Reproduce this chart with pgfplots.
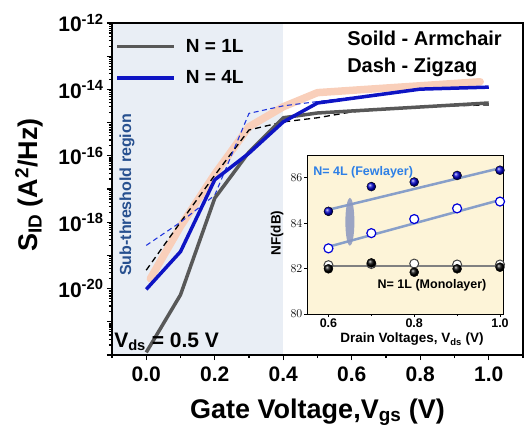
\documentclass[border=0pt]{standalone}
\usepackage{fontspec}
\setmainfont{Liberation Sans}
\usepackage{pgfplots}
\pgfplotsset{compat=1.18}
\usetikzlibrary{plotmarks}
\definecolor{shadebg}{HTML}{E9EEF5}
\definecolor{peach}{HTML}{F9CFBA}
\definecolor{graymain}{HTML}{585858}
\definecolor{bluemain}{HTML}{0E14C4}
\definecolor{bluedash}{HTML}{2236DD}
\definecolor{subblue}{HTML}{27508F}
\definecolor{insetbg}{HTML}{FDF4D8}
\definecolor{fitblue}{HTML}{7C96C8}
\definecolor{ellip}{HTML}{8A97C0}
\definecolor{lblue}{HTML}{2D7FE6}
\begin{document}
\begin{tikzpicture}
\path (-112pt,-68pt) rectangle (414pt,355pt);
\begin{axis}[
  at={(0pt,0pt)}, anchor=south west,
  scale only axis, width=411pt, height=332pt,
  axis on top,
  xmin=-0.1, xmax=1.1,
  ymode=log, ymin=1e-22, ymax=1e-12,
  xtick={0,0.2,0.4,0.6,0.8,1.0},
  xticklabels={0.0,0.2,0.4,0.6,0.8,1.0},
  minor xtick={-0.1,0.1,0.3,0.5,0.7,0.9,1.1},
  ytick={1e-22,1e-21,1e-20,1e-19,1e-18,1e-17,1e-16,1e-15,1e-14,1e-13,1e-12},
  yticklabels={,,10\textsuperscript{-20},,10\textsuperscript{-18},,10\textsuperscript{-16},,10\textsuperscript{-14},,10\textsuperscript{-12}},
  tick align=outside, xtick pos=bottom, ytick pos=left,
  major tick length=5pt, minor tick length=3pt,
  every tick/.style={black, line width=1.1pt},
  axis line style={line width=1.4pt},
  tick label style={font=\fontsize{21}{21}\selectfont\bfseries},
  xticklabel style={yshift=-3pt},
  xlabel={Gate Voltage,V\textsubscript{gs} (V)},
  ylabel={S\textsubscript{ID} (A\textsuperscript{2}/Hz)},
  xlabel style={at={(axis description cs:0.5,-0.19)}, anchor=base, font=\fontsize{27}{27}\selectfont\bfseries},
  ylabel style={at={(axis description cs:-0.202,0.512)}, anchor=center, rotate=0, font=\fontsize{27}{27}\selectfont\bfseries},
  legend style={at={(rel axis cs:0.008,0.958)}, anchor=north west, draw=none, fill=none, inner sep=0pt,
    font=\fontsize{19}{19}\selectfont\bfseries, row sep=13pt, nodes={inner sep=2pt}},
  legend cell align=left,
  legend image code/.code={\draw[#1] (0pt,0pt) -- (57pt,0pt); \path (65pt,0pt);},
]
\addplot[fill=shadebg, draw=none, forget plot] coordinates {(-0.1,1e-22) (-0.1,1e-12) (0.4,1e-12) (0.4,1e-22)} -- cycle;
\addplot[peach, line width=7.5pt, line join=round, line cap=round, forget plot] coordinates {
(0.012,2e-20) (0.1,7.5e-19) (0.2,2.8e-17) (0.3,7.5e-16) (0.4,3e-15) (0.5,8e-15) (0.975,1.7e-14)};
\addplot[black, line width=1.3pt, dash pattern=on 6pt off 4pt, forget plot] coordinates {
(0,3.6e-20) (0.1,1e-18) (0.2,2.6e-17) (0.3,6e-16) (0.4,1.05e-15) (0.5,1.4e-15) (0.6,2.1e-15) (0.8,3.0e-15) (1.0,3.4e-15)};
\addplot[bluedash, line width=1.1pt, dash pattern=on 5pt off 3.5pt, forget plot] coordinates {
(0,2e-19) (0.1,1e-18) (0.2,6.5e-18) (0.3,1.9e-15) (0.4,3.2e-15) (0.5,4.3e-15) (0.8,1.05e-14) (1.0,1.15e-14)};
\addplot[graymain, line width=3.5pt, line join=round] coordinates {
(0,1.2e-22) (0.1,6.5e-21) (0.2,5.3e-18) (0.3,1.3e-16) (0.4,1.4e-15) (0.5,1.95e-15) (1.0,3.9e-15)};
\addlegendentry{N = 1L}
\addplot[bluemain, line width=3.5pt, line join=round] coordinates {
(0,9.5e-21) (0.1,1.3e-19) (0.2,1.9e-17) (0.3,1.2e-16) (0.4,1.05e-15) (0.5,3.9e-15) (0.8,1.02e-14) (1.0,1.17e-14)};
\addlegendentry{N = 4L}
\node[anchor=west, inner sep=0pt, font=\fontsize{20}{20}\selectfont\bfseries] at (rel axis cs:0.572,0.955) {Soild - Armchair};
\node[anchor=west, inner sep=0pt, font=\fontsize{20}{20}\selectfont\bfseries] at (rel axis cs:0.572,0.867) {Dash - Zigzag};
\node[rotate=90, inner sep=0pt, text=subblue, font=\fontsize{16}{16}\selectfont\bfseries] at (rel axis cs:0.0365,0.482) {Sub-threshold region};
\node[anchor=base west, inner sep=0pt, font=\fontsize{21}{21}\selectfont\bfseries] at (rel axis cs:0.005,0.024) {V\textsubscript{ds} = 0.5 V};
\end{axis}
\begin{axis}[
  at={(195pt,41pt)}, anchor=south west,
  scale only axis, width=196pt, height=159pt,
  xmin=0.55, xmax=1.007, ymin=80, ymax=87,
  xtick={0.6,0.8,1.0}, xticklabels={0.6,0.8,1.0}, minor xtick={0.7,0.9},
  ytick={80,82,84,86},
  axis background/.style={fill=insetbg},
  tick align=outside, xtick pos=bottom, ytick pos=left,
  major tick length=3pt, minor tick length=2pt,
  every tick/.style={black, line width=0.8pt},
  axis line style={line width=1pt},
  tick label style={font=\fontsize{12.5}{12.5}\selectfont\bfseries, inner sep=1.5pt},
  xlabel={Drain Voltages, V\textsubscript{ds} (V)},
  ylabel={NF(dB)},
  xlabel style={at={(axis description cs:0.536,-0.182)}, anchor=base, font=\fontsize{13.5}{13.5}\selectfont\bfseries},
  ylabel style={at={(axis description cs:-0.153,0.509)}, anchor=center, font=\fontsize{13.5}{13.5}\selectfont\bfseries},
]
\addplot[fitblue, line width=2.5pt, opacity=0.9] coordinates {(0.6,84.59) (1.0,86.42)};
\addplot[fitblue, line width=2.5pt, opacity=0.9] coordinates {(0.6,82.96) (1.0,85.02)};
\addplot[gray, line width=2pt] coordinates {(0.6,82.1) (1.0,82.1)};
\addplot[only marks, mark=*, mark size=4.5pt, mark options={fill=white, draw=black!75, line width=1pt}] coordinates {
(0.6,82.15) (0.7,82.2) (0.8,82.22) (0.9,82.18) (1.0,82.18)};
\addplot[only marks, mark=ball, mark size=4.5pt, mark options={ball color=black}] coordinates {
(0.6,81.99) (0.7,82.25) (0.8,81.84) (0.9,81.99) (1.0,82.06)};
\addplot[only marks, mark=*, mark size=4.5pt, mark options={fill=white, draw=blue!85!black, line width=1.2pt}] coordinates {
(0.6,82.89) (0.7,83.56) (0.8,84.18) (0.9,84.65) (1.0,84.95)};
\addplot[only marks, mark=ball, mark size=4.5pt, mark options={ball color=blue!80!black}] coordinates {
(0.6,84.52) (0.7,85.61) (0.8,85.81) (0.9,86.1) (1.0,86.33)};
\fill[ellip, opacity=0.85] (axis cs:0.65,84.06) ellipse [x radius=4.5pt, y radius=24pt];
\node[anchor=west, inner sep=0pt, text=lblue, font=\fontsize{12.5}{12.5}\selectfont\bfseries] at (rel axis cs:0.031,0.889) {N= 4L (Fewlayer)};
\node[inner sep=0pt, font=\fontsize{12.5}{12.5}\selectfont\bfseries] at (rel axis cs:0.638,0.182) {N= 1L (Monolayer)};
\end{axis}
\end{tikzpicture}
\end{document}
